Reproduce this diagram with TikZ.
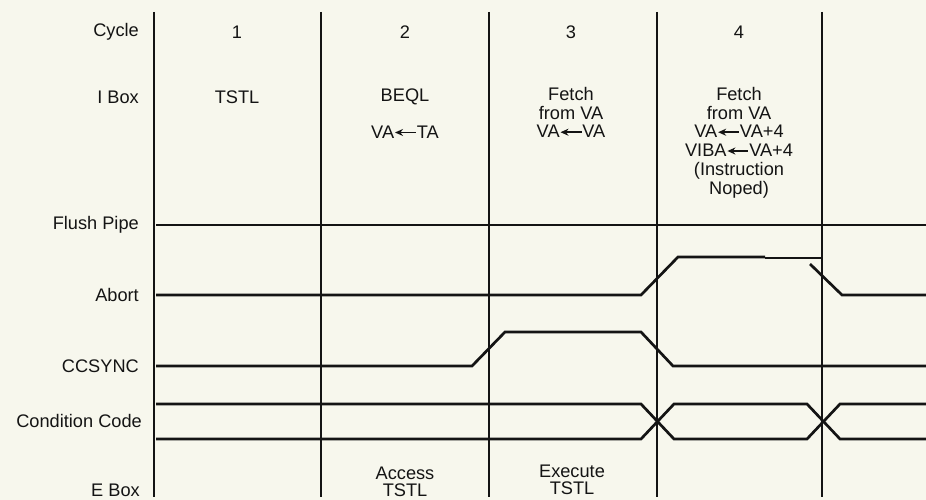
\documentclass[tikz,border=0pt]{standalone}
\usepackage{fontspec}
\setmainfont{Liberation Sans}
\usetikzlibrary{arrows.meta}
\definecolor{paper}{RGB}{247,247,237}
\definecolor{ink}{RGB}{20,20,20}
% arrow used inside the I Box texts
\newcommand{\loadarrow}{\tikz[baseline=-0.6ex]\draw[ink, line width=1.7pt, {Stealth[length=8pt,width=7pt]}-] (0,0) -- (21pt,0);}

\begin{document}
\begin{tikzpicture}[
    x=1pt, y=-1pt,
    rowlabel/.style={anchor=east, text=ink, font=\fontsize{18.2}{18.8}\selectfont, inner sep=0pt},
    celltext/.style={align=center, text=ink, font=\fontsize{18.2}{18.8}\selectfont, inner sep=0pt},
    etext/.style={align=center, text=ink, font=\fontsize{18.2}{16.5}\selectfont, inner sep=0pt},
    cycleline/.style={ink, line width=1.2pt},
    signal/.style={ink, line width=2.7pt, line join=miter}
]
    % Background and size
    \fill[paper] (0,0) rectangle (926,500);
    \useasboundingbox (0,0) rectangle (926,500);

    % Cycle boundaries
    \foreach \x/\name in {154/b0, 321/b1, 489/b2, 657/b3, 822/b4} {
        \coordinate (\name top) at (\x,12);
        \coordinate (\name bot) at (\x,497);
        \draw[cycleline] (\name top) -- (\name bot);
    }

    % Row labels
    \node[rowlabel] (cycle) at (139,32) {Cycle};
    \node[rowlabel] (ibox) at (139,97) {I Box};
    \node[rowlabel] (flush) at (139,225) {Flush Pipe};
    \node[rowlabel] (abort) at (139,295) {Abort};
    \node[rowlabel] (ccsync) at (139,366) {CCSYNC};
    \node[rowlabel] (ccode) at (142,421) {Condition Code};
    \node[rowlabel] (ebox) at (140,490) {E Box};

    % Cycle numbers
    \node[celltext] (c1) at (237,32) {1};
    \node[celltext] (c2) at (405,32) {2};
    \node[celltext] (c3) at (571,32) {3};
    \node[celltext] (c4) at (739,32) {4};

    % I Box contents
    \node[celltext] (i1) at (237,97) {TSTL};
    \node[celltext] (i2) at (405,97) {BEQL};
    \node[celltext] (i2b) at (405,132) {VA\loadarrow TA};
    \node[celltext, anchor=north] (i3) at (571,87) {Fetch\\from VA\\VA\loadarrow VA};
    \node[celltext, anchor=north] (i4) at (739,87) {Fetch\\from VA\\VA\loadarrow VA+4\\VIBA\loadarrow VA+4\\(Instruction\\Noped)};

    % E Box contents
    \node[etext] (e2) at (405,482) {Access\\TSTL};
    \node[etext] (e3) at (572,480) {Execute\\TSTL};

    % Flush Pipe
    \draw[signal] (156,225) -- (926,225);

    % Abort
    \draw[signal] (156,295) -- (641,295) -- (678,257) -- (765,257);
    \draw[ink, line width=1.8pt] (765,258) -- (822,258);
    \draw[signal] (810,264) -- (842,295) -- (926,295);

    % CCSYNC
    \draw[signal] (156,366) -- (472,366) -- (505,332) -- (641,332) -- (673,366) -- (926,366);

    % Condition Code
    \draw[signal] (156,404) -- (641,404) -- (674,439) -- (807,439) -- (840,404) -- (926,404);
    \draw[signal] (156,439) -- (641,439) -- (674,404) -- (807,404) -- (840,439) -- (926,439);
\end{tikzpicture}
\end{document}
